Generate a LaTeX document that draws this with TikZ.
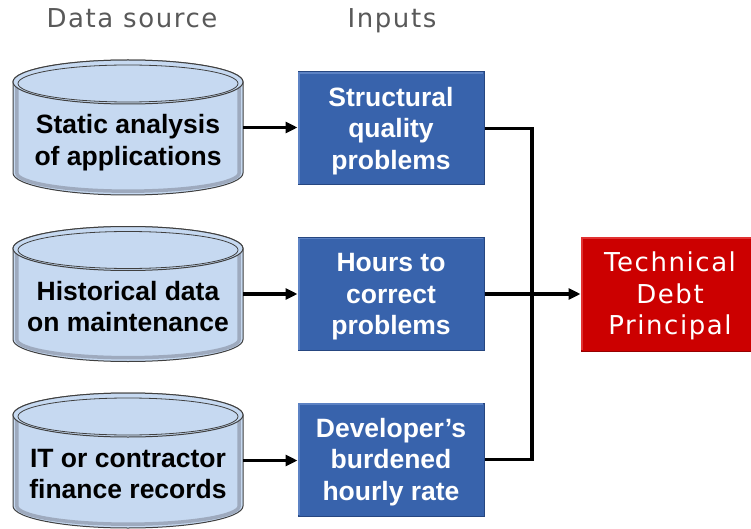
\documentclass[tikz,border=0pt]{standalone}
\usepackage{fontspec}
\setmainfont{Liberation Sans}
\newfontfamily\hdfont{DejaVu Sans}[LetterSpace=6]
\usetikzlibrary{arrows.meta,calc}

\definecolor{drumfill}{RGB}{198,217,241}
\definecolor{drumrim}{RGB}{158,170,190}
\definecolor{drumline}{RGB}{64,64,64}
\definecolor{inputblue}{RGB}{56,99,172}
\definecolor{inputedge}{RGB}{38,70,128}
\definecolor{inputlight}{RGB}{92,130,196}
\definecolor{debtred}{RGB}{204,0,0}
\definecolor{debtedge}{RGB}{150,0,0}
\definecolor{debtlight}{RGB}{225,50,50}
\definecolor{headgray}{RGB}{89,89,89}

\begin{document}
\begin{tikzpicture}[x=1pt,y=-1pt,
  boldtext/.style={font=\fontsize{26.5}{31.5}\selectfont\bfseries, align=center},
  drumbody/.style={minimum width=230pt, minimum height=91pt, inner sep=0pt},
  drumlabel/.style={boldtext, text=black},
  inputbox/.style={rectangle, fill=inputblue, draw=inputedge, line width=1pt,
    minimum width=186pt, minimum height=113pt, inner sep=0pt},
  inputlabel/.style={boldtext, text=white},
  debtbox/.style={rectangle, fill=debtred, draw=debtedge, line width=1pt,
    minimum width=178pt, minimum height=114pt, inner sep=0pt},
  debtlabel/.style={font=\hdfont\fontsize{26}{31.5}\selectfont, align=center, text=white},
  header/.style={font=\hdfont\fontsize{26}{31.5}\selectfont, text=headgray, anchor=base},
  flow/.style={line width=3.3pt},
  flowarrow/.style={flow, -{Triangle[length=12pt,width=11pt]}},
]
\useasboundingbox (0,0) rectangle (751,529);

% database drums
\foreach \yt in {82, 248.5, 415} {
  \pgfmathsetmacro\yb{\yt+91}
  \filldraw[fill=drumfill, draw=drumline, line width=1pt]
    (13,\yt) -- (13,\yb) arc[start angle=180, end angle=0, x radius=115, y radius=22]
    -- (243,\yt) arc[start angle=0, end angle=-180, x radius=115, y radius=22] -- cycle;
  \draw[drumrim, line width=3.5pt]
    (16.8,\yt) -- (16.8,\yb) arc[start angle=180, end angle=0, x radius=111.2, y radius=18.2]
    -- (239.2,\yt);
  \filldraw[fill=drumfill, draw=drumline, line width=1pt]
    (128,\yt) ellipse[x radius=115, y radius=22];
  \draw[drumline, line width=0.8pt] (128,\yt+1.5) ellipse[x radius=110, y radius=18.5];
}

\node[drumbody] (c1) at (128,127.5) {};
\node[drumbody] (c2) at (128,294) {};
\node[drumbody] (c3) at (128,460.5) {};
\node[drumlabel] (t1) at (128,143) {\strut Static analysis\\\strut of applications};
\node[drumlabel] (t2) at (128,309.5) {\strut Historical data\\\strut on maintenance};
\node[drumlabel] (t3) at (128,476.5) {\strut IT or contractor\\\strut finance records};

% inputs
\node[inputbox] (b1) at (391,128.5) {};
\node[inputbox] (b2) at (391,294) {};
\node[inputbox] (b3) at (391,459.5) {};
\foreach \b in {b1,b2,b3}
  \draw[inputlight, line width=1.2pt]
    ([shift={(1.5,-1.5)}]\b.south west) -- ([shift={(1.5,1.5)}]\b.north west)
    -- ([shift={(-1.5,1.5)}]\b.north east);
\node[inputlabel] (l1) at ([yshift=-3pt]b1.center) {\strut Structural\\\strut quality\\\strut problems};
\node[inputlabel] (l2) at ([yshift=-3pt]b2.center) {\strut Hours to\\\strut correct\\\strut problems};
\node[inputlabel] (l3) at ([yshift=-3pt]b3.center) {\strut Developer’s\\\strut burdened\\\strut hourly rate};

% result
\node[debtbox] (td) at (670,294) {};
\draw[debtlight, line width=1.2pt]
  ([shift={(1.5,-1.5)}]td.south west) -- ([shift={(1.5,1.5)}]td.north west)
  -- ([shift={(-1.5,1.5)}]td.north east);
\node[debtlabel] (tl) at ([yshift=-3pt]td.center) {\strut Technical\\\strut Debt\\\strut Principal};

% column headings
\node[header] (h1) at (132,28) {Data source};
\node[header] (h2) at (392,28) {Inputs};

% connectors
\coordinate (j) at (532,294);
\draw[flowarrow] (c1.east) -- (c1.east -| b1.west);
\draw[flowarrow] (c2.east) -- (c2.east -| b2.west);
\draw[flowarrow] (c3.east) -- (c3.east -| b3.west);
\draw[flow] (b1.east) -| (j) |- (b3.east);
\draw[flowarrow] (b2.east) -- (td.west);
\end{tikzpicture}
\end{document}
